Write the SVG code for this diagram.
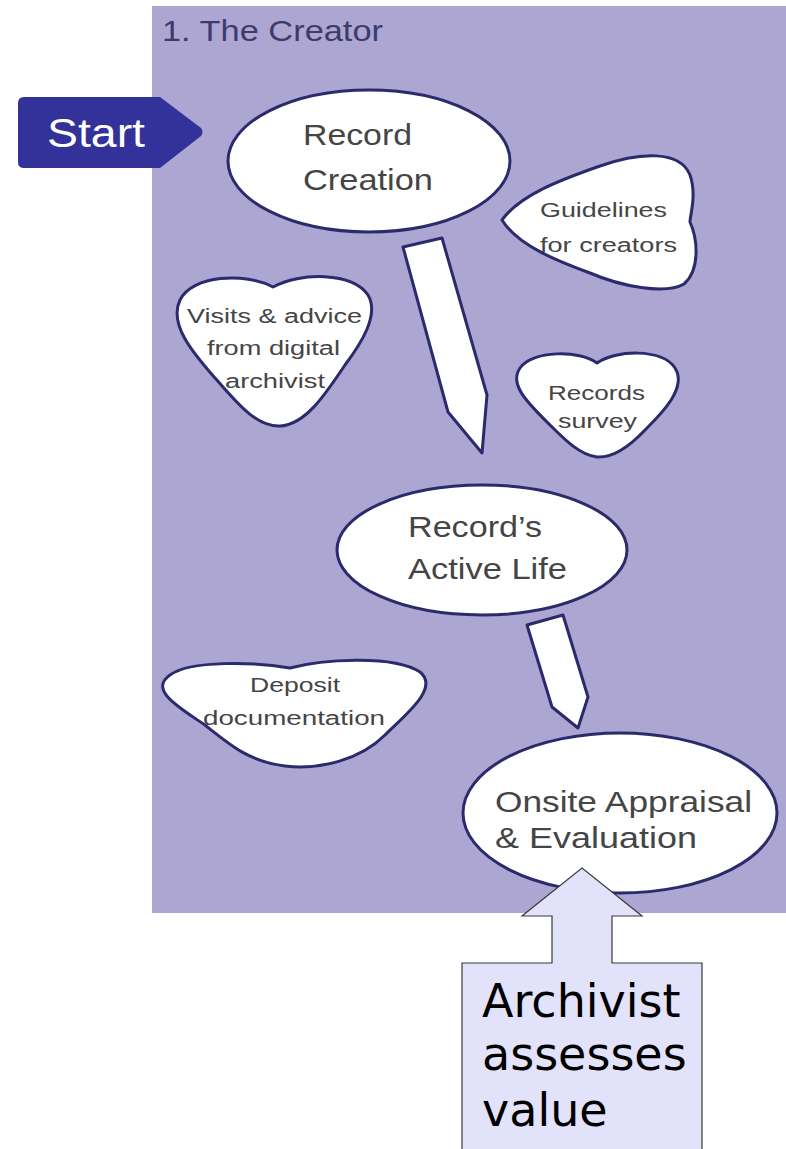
<svg xmlns="http://www.w3.org/2000/svg" width="786" height="1149" viewBox="0 0 786 1149">
<style>
.shape{fill:#ffffff;stroke:#2b2a6c;stroke-width:3;stroke-linejoin:round}
.lbl{font-family:"Liberation Sans",Arial,sans-serif;fill:#454545}
.big{font-size:29px}
.small{font-size:20px}
.callout{fill:#e2e2fa;stroke:#3a3a3a;stroke-width:1.2}
.ctext{font-family:"DejaVu Sans",sans-serif;font-size:46px;fill:#000000}
</style>
<rect width="786" height="1149" fill="#ffffff"/>
<g id="panel">
<rect x="152" y="6" width="634" height="907" fill="#ada6d2"/>
<text class="lbl" x="162" y="41" font-size="30" textLength="221" lengthAdjust="spacingAndGlyphs" style="fill:#3d3b6c">1. The Creator</text>
</g>
<g id="start">
<path d="M24,97 L160,97 L201,128 Q204,132 201,136 L160,168 L24,168 Q18,168 18,162 L18,103 Q18,97 24,97 Z" fill="#33319a"/>
<text x="47" y="147" font-family="Liberation Sans, Arial, sans-serif" font-size="40" fill="#ffffff" textLength="98" lengthAdjust="spacingAndGlyphs">Start</text>
</g>
<g id="connectors">
<path class="shape" d="M403,247 L442,238 L487,395 L482,453 L448,412 Z"/>
<path class="shape" d="M527,625 L563,615 L588,697 L578,728 L552,707 Z"/>
</g>
<g id="record-creation">
<ellipse class="shape" cx="369" cy="161" rx="141" ry="71"/>
<text class="lbl big" x="303" y="145" textLength="109" lengthAdjust="spacingAndGlyphs">Record</text>
<text class="lbl big" x="303" y="190" textLength="130" lengthAdjust="spacingAndGlyphs">Creation</text>
</g>
<g id="guidelines">
<path class="shape" d="M502,220 C520,195 560,180 600,166 C640,152 680,150 690,175 C697,195 690,215 690,222 C698,240 700,270 684,284 C665,295 620,286 590,273 C560,262 518,246 502,220 Z"/>
<text class="lbl small" x="540" y="217" textLength="127" lengthAdjust="spacingAndGlyphs">Guidelines</text>
<text class="lbl small" x="540" y="252" textLength="137" lengthAdjust="spacingAndGlyphs">for creators</text>
</g>
<g id="visits">
<path class="shape" d="M273,287 C300,272 352,272 368,295 C380,315 360,345 345,365 C325,395 305,425 280,426 C255,427 235,400 215,378 C195,355 168,325 180,300 C192,275 245,272 273,287 Z"/>
<text class="lbl small" x="187" y="323" textLength="175" lengthAdjust="spacingAndGlyphs">Visits &amp; advice</text>
<text class="lbl small" x="207" y="355" textLength="133" lengthAdjust="spacingAndGlyphs">from digital</text>
<text class="lbl small" x="225" y="388" textLength="100" lengthAdjust="spacingAndGlyphs">archivist</text>
</g>
<g id="records-survey">
<path class="shape" d="M597,363 C615,350 662,348 675,368 C688,388 660,415 645,430 C628,448 612,458 597,457 C580,455 565,440 550,425 C530,405 508,385 520,368 C532,350 580,350 597,363 Z"/>
<text class="lbl small" x="548" y="400" textLength="97" lengthAdjust="spacingAndGlyphs">Records</text>
<text class="lbl small" x="558" y="428" textLength="79" lengthAdjust="spacingAndGlyphs">survey</text>
</g>
<g id="active-life">
<ellipse class="shape" cx="482" cy="550" rx="145" ry="65"/>
<text class="lbl big" x="408" y="537" textLength="134" lengthAdjust="spacingAndGlyphs">Record’s</text>
<text class="lbl big" x="408" y="579" textLength="159" lengthAdjust="spacingAndGlyphs">Active Life</text>
</g>
<g id="deposit">
<path class="shape" d="M290,668 C320,660 392,654 420,672 C440,688 405,715 385,735 C360,760 320,770 285,766 C250,762 230,745 205,725 C180,708 148,690 170,675 C190,660 255,662 290,668 Z"/>
<text class="lbl small" x="250" y="692" textLength="90" lengthAdjust="spacingAndGlyphs">Deposit</text>
<text class="lbl small" x="203" y="725" textLength="182" lengthAdjust="spacingAndGlyphs">documentation</text>
</g>
<g id="onsite">
<ellipse class="shape" cx="620" cy="813" rx="157" ry="80"/>
<text class="lbl big" x="495" y="812" textLength="257" lengthAdjust="spacingAndGlyphs">Onsite Appraisal</text>
<text class="lbl big" x="495" y="848" textLength="202" lengthAdjust="spacingAndGlyphs">&amp; Evaluation</text>
</g>
<g id="archivist-callout">
<path class="callout" d="M462,1150 L462,963 L552,963 L552,916 L522,916 L582,868 L642,916 L612,916 L612,963 L702,963 L702,1150"/>
<text class="ctext" x="482" y="1017">Archivist</text>
<text class="ctext" x="482" y="1070">assesses</text>
<text class="ctext" x="482" y="1126">value</text>
</g>
</svg>
